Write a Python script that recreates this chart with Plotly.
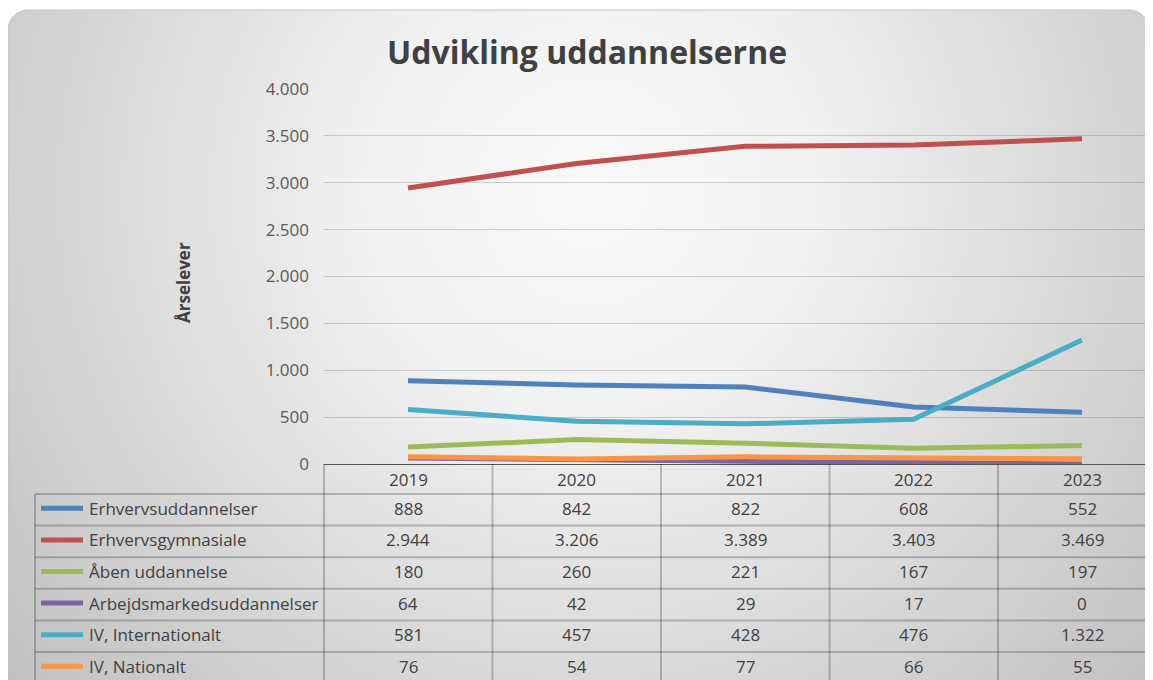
import base64
import plotly.graph_objects as go

# ---------------- data ----------------
years = ["2019", "2020", "2021", "2022", "2023"]
series_names = [
    "Erhvervsuddannelser",
    "Erhvervsgymnasiale",
    "Åben uddannelse",
    "Arbejdsmarkedsuddannelser",
    "IV, Internationalt",
    "IV, Nationalt",
]
erhvervsuddannelser = [888, 842, 822, 608, 552]
erhvervsgymnasiale = [2944, 3206, 3389, 3403, 3469]
aaben_uddannelse = [180, 260, 221, 167, 197]
arbejdsmarkedsuddannelser = [64, 42, 29, 17, 0]
iv_internationalt = [581, 457, 428, 476, 1322]
iv_nationalt = [76, 54, 77, 66, 55]
series_values = [erhvervsuddannelser, erhvervsgymnasiale, aaben_uddannelse,
                 arbejdsmarkedsuddannelser, iv_internationalt, iv_nationalt]
colors = ["#4F81BD", "#C0504D", "#9BBB59", "#8064A2", "#4BACC6", "#F79646"]
y_ticks = [0, 500, 1000, 1500, 2000, 2500, 3000, 3500, 4000]
title_text = "Udvikling uddannelserne"
y_title = "Årselever"

# ---------------- geometry (window pixels) ----------------
W, H = 1153, 680
OX, OY = 8, 8          # page body margin offset of the figure
FONT = "Open Sans"


def fx(px):
    return (px - OX) / W


def fy(py):
    return 1 - (py - OY) / H


col0 = 408.0
colw = 168.5
plot_left, plot_top, plot_bottom = 324.0, 89.0, 464.0
x_range = [(plot_left - col0) / colw, (OX + W - col0) / colw]

fmt = lambda v: f"{v:,}".replace(",", ".")

svg = f"""<svg xmlns='http://www.w3.org/2000/svg' width='{W}' height='{H}' viewBox='0 0 {W} {H}'>
<defs>
<radialGradient id='g' gradientUnits='userSpaceOnUse' cx='582' cy='182' r='760'>
<stop offset='0' stop-color='#f9f9f9'/>
<stop offset='0.3' stop-color='#f1f1f1'/>
<stop offset='1' stop-color='#c0c0c0'/>
</radialGradient>
</defs>
<rect x='0' y='0' width='{W}' height='{H}' fill='#ffffff'/>
<rect x='1' y='3' width='1141' height='690' rx='20' ry='20' fill='#b0b0b0' opacity='0.35'/>
<rect x='0' y='2' width='1141' height='690' rx='20' ry='20' fill='url(#g)' stroke='#c4c4c4' stroke-width='1'/>
</svg>"""
src = "data:image/svg+xml;base64," + base64.b64encode(svg.encode("utf-8")).decode("ascii")

fig = go.Figure()

x_idx = list(range(len(years)))
for name, vals, c in zip(series_names, series_values, colors):
    fig.add_trace(go.Scatter(
        x=x_idx, y=vals, mode="lines", name=name,
        line=dict(color=c, width=5), showlegend=False,
        hovertemplate=name + ": %{y}<extra></extra>",
    ))

shapes = []
annotations = []

annotations.append(dict(
    x=fx(587), y=fy(52), xref="paper", yref="paper", text="<b>" + title_text + "</b>",
    showarrow=False, xanchor="center", yanchor="middle",
    font=dict(family=FONT, size=32, color="#404040"),
))
annotations.append(dict(
    x=fx(183), y=fy(283), xref="paper", yref="paper", text="<b>" + y_title + "</b>",
    showarrow=False, textangle=-90, xanchor="center", yanchor="middle",
    font=dict(family=FONT, size=17, color="#404040"),
))

border = "rgba(0,0,0,0.22)"
table_left = 35.0
header_top, header_bot = 464.0, 494.0
row_h = 31.6
n_rows = len(series_names)
table_bottom = header_bot + row_h * n_rows
col_edges = [plot_left + colw * i for i in range(len(years) + 1)]

shapes.append(dict(type="line", xref="paper", yref="paper",
                   x0=fx(table_left), x1=fx(W + 40), y0=fy(header_bot), y1=fy(header_bot),
                   line=dict(color=border, width=2)))
for k in range(1, n_rows + 1):
    yy = header_bot + row_h * k
    shapes.append(dict(type="line", xref="paper", yref="paper",
                       x0=fx(table_left), x1=fx(W + 40), y0=fy(yy), y1=fy(yy),
                       line=dict(color=border, width=2)))
shapes.append(dict(type="line", xref="paper", yref="paper",
                   x0=fx(table_left), x1=fx(table_left), y0=fy(header_bot), y1=fy(table_bottom),
                   line=dict(color=border, width=2)))
for xe in col_edges:
    shapes.append(dict(type="line", xref="paper", yref="paper",
                       x0=fx(xe), x1=fx(xe), y0=fy(header_top), y1=fy(table_bottom),
                       line=dict(color=border, width=2)))

for i, yr in enumerate(years):
    annotations.append(dict(
        x=fx(col0 + colw * i), y=fy((header_top + header_bot) / 2), xref="paper", yref="paper",
        text=yr, showarrow=False, xanchor="center", yanchor="middle",
        font=dict(family=FONT, size=17, color="#404040"),
    ))

for r, (name, vals, c) in enumerate(zip(series_names, series_values, colors)):
    yc = header_bot + row_h * r + row_h / 2 - 1.5
    shapes.append(dict(type="line", xref="paper", yref="paper",
                       x0=fx(41), x1=fx(83), y0=fy(yc), y1=fy(yc),
                       line=dict(color=c, width=5)))
    annotations.append(dict(
        x=fx(87), y=fy(yc), xref="paper", yref="paper", text=name,
        showarrow=False, xanchor="left", yanchor="middle",
        font=dict(family=FONT, size=17, color="#404040"),
    ))
    for i, v in enumerate(vals):
        annotations.append(dict(
            x=fx(col0 + colw * i), y=fy(yc), xref="paper", yref="paper",
            text=fmt(v), showarrow=False, xanchor="center", yanchor="middle",
            font=dict(family=FONT, size=17, color="#404040"),
        ))

fig.update_layout(
    width=W, height=H,
    margin=dict(l=0, r=0, t=0, b=0, pad=0, autoexpand=False),
    paper_bgcolor="#ffffff",
    plot_bgcolor="rgba(0,0,0,0)",
    separators=",.",
    images=[dict(source=src, xref="paper", yref="paper", x=0, y=1,
                 sizex=1, sizey=1, xanchor="left", yanchor="top",
                 sizing="stretch", layer="below")],
    xaxis=dict(domain=[fx(plot_left), 1], range=x_range, showticklabels=False,
               showgrid=False, zeroline=False, showline=True, linecolor="#555555",
               linewidth=1, ticks="", fixedrange=True, automargin=False),
    yaxis=dict(domain=[fy(plot_bottom), fy(plot_top)], range=[0, 4000],
               tickvals=y_ticks, tickformat=",d", showgrid=True,
               gridcolor="rgba(0,0,0,0.17)", gridwidth=1, zeroline=False,
               showline=False, ticks="", ticklabelstandoff=14, automargin=False,
               tickfont=dict(family=FONT, size=17, color="#595959"), fixedrange=True),
    shapes=shapes,
    annotations=annotations,
    showlegend=False,
)

fig.write_html("out.html")
